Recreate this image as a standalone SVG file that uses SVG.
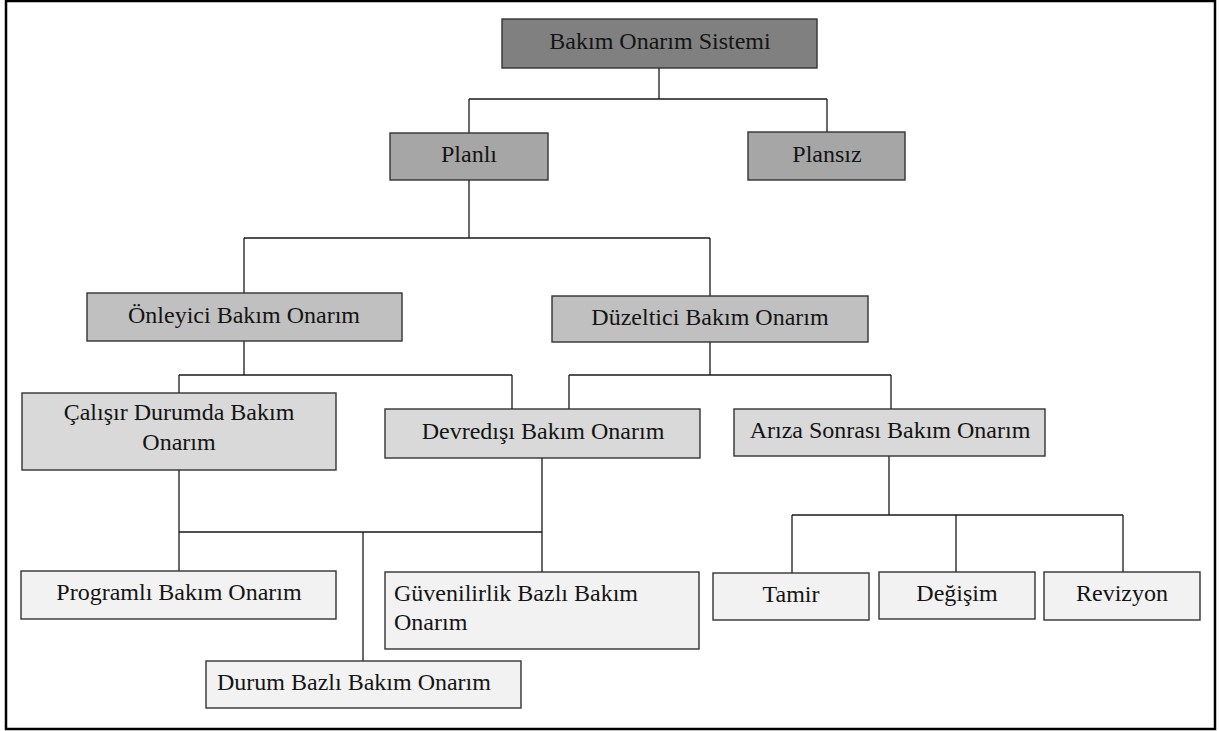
<svg xmlns="http://www.w3.org/2000/svg" width="1219" height="731" viewBox="0 0 1219 731">
  <style>
    .box { stroke: #333; stroke-width: 1.4; }
    .l0 { fill: #808080; }
    .l1 { fill: #a6a6a6; }
    .l2 { fill: #c0c0c0; }
    .l3 { fill: #d9d9d9; }
    .l4 { fill: #f2f2f2; }
    text { font-family: "Liberation Serif", "Times New Roman", serif; font-size: 24px; fill: #141414; }
    .c { text-anchor: middle; }
    .wire { fill: none; stroke: #1a1a1a; stroke-width: 1.3; }
  </style>

  <rect x="0" y="0" width="1219" height="731" fill="#fff"/>
  <!-- outer frame -->
  <rect x="6" y="1" width="1209" height="728" fill="none" stroke="#000" stroke-width="2.5"/>

  <!-- connectors -->
  <g id="connectors" class="wire">
    <path d="M659 68 V99 M469 99 H827 M469 99 V133 M827 99 V132"/>
    <path d="M469 180 V238 M244 238 H710 M244 238 V293 M710 238 V296"/>
    <path d="M244 341 V375 M179 375 H512 M179 375 V393 M512 375 V409"/>
    <path d="M710 342 V375 M569 375 H891 M569 375 V409 M891 375 V409"/>
    <path d="M179 470 V571 M542 458 V572 M179 532 H542 M363 532 V661"/>
    <path d="M889 456 V515 M792 515 H1123 M792 515 V573 M956 515 V572 M1123 515 V572"/>
  </g>

  <!-- level 0 -->
  <g id="sistem">
    <rect class="box l0" x="502" y="19" width="315" height="49"/>
    <text class="c" x="660" y="49">Bakım Onarım Sistemi</text>
  </g>

  <!-- level 1 -->
  <g id="planli">
    <rect class="box l1" x="390" y="133" width="158" height="47"/>
    <text class="c" x="469" y="162">Planlı</text>
  </g>
  <g id="plansiz">
    <rect class="box l1" x="748" y="132" width="157" height="48"/>
    <text class="c" x="827" y="162">Plansız</text>
  </g>

  <!-- level 2 -->
  <g id="onleyici">
    <rect class="box l2" x="87" y="293" width="315" height="48"/>
    <text class="c" x="244" y="323">Önleyici Bakım Onarım</text>
  </g>
  <g id="duzeltici">
    <rect class="box l2" x="552" y="296" width="316" height="46"/>
    <text class="c" x="710" y="325">Düzeltici Bakım Onarım</text>
  </g>

  <!-- level 3 -->
  <g id="calisir">
    <rect class="box l3" x="22" y="393" width="314" height="77"/>
    <text class="c" x="179" y="420">Çalışır Durumda Bakım</text>
    <text class="c" x="179" y="450">Onarım</text>
  </g>
  <g id="devredisi">
    <rect class="box l3" x="385" y="409" width="315" height="49"/>
    <text class="c" x="543" y="439">Devredışı Bakım Onarım</text>
  </g>
  <g id="ariza">
    <rect class="box l3" x="734" y="409" width="311" height="47"/>
    <text class="c" x="890" y="438">Arıza Sonrası Bakım Onarım</text>
  </g>

  <!-- level 4 -->
  <g id="programli">
    <rect class="box l4" x="21" y="571" width="315" height="48"/>
    <text class="c" x="179" y="600">Programlı Bakım Onarım</text>
  </g>
  <g id="guvenilirlik">
    <rect class="box l4" x="385" y="572" width="314" height="77"/>
    <text x="394" y="601">Güvenilirlik Bazlı Bakım</text>
    <text x="394" y="630">Onarım</text>
  </g>
  <g id="durum">
    <rect class="box l4" x="206" y="661" width="315" height="47"/>
    <text x="217" y="690">Durum Bazlı Bakım Onarım</text>
  </g>
  <g id="tamir">
    <rect class="box l4" x="713" y="573" width="156" height="47"/>
    <text class="c" x="791" y="602">Tamir</text>
  </g>
  <g id="degisim">
    <rect class="box l4" x="879" y="572" width="156" height="47"/>
    <text class="c" x="957" y="601">Değişim</text>
  </g>
  <g id="revizyon">
    <rect class="box l4" x="1044" y="572" width="156" height="48"/>
    <text class="c" x="1122" y="601">Revizyon</text>
  </g>
</svg>
